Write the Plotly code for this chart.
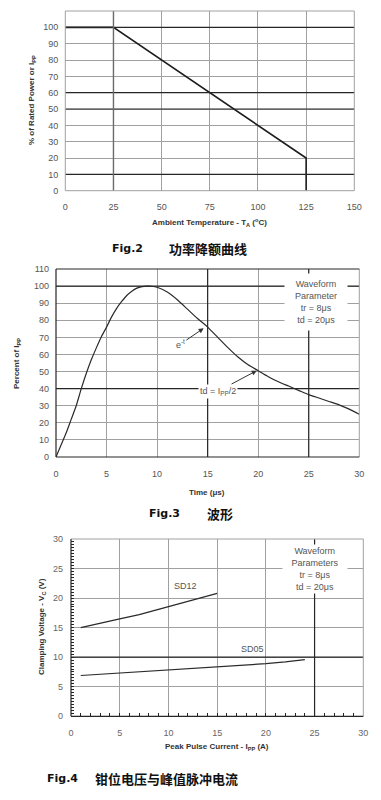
import plotly.graph_objects as go

# ---------------- data ----------------
# Fig.2 power derating
TEMP = [0, 25, 125, 125]
POWER = [100, 100, 20, 0]

# Fig.3 pulse waveform
TIME = [0, 0.5, 1, 1.5, 2, 2.5, 3, 3.5, 4, 4.5, 5, 5.5, 6, 6.5, 7, 7.5, 8, 8.5, 9, 9.5,
        10, 11, 12, 13, 14, 15, 16, 17, 18, 19, 20, 21, 22, 23, 24, 25, 26, 27, 28, 29, 30]
PCT = [0, 7, 14, 22, 30, 40, 49, 57, 64, 70.5, 76, 82, 87, 91, 94.5, 97, 98.8, 99.7, 100, 99.9,
       99.3, 96.5, 92, 86.5, 81, 76, 70, 64, 58.5, 54, 50.5, 47, 44, 41.5, 39, 36.5, 34.5, 32.5, 30.5, 28, 25]

# Fig.4 clamping voltage vs peak pulse current
SD12_I = [1, 3, 5, 7, 9, 11, 13, 15]
SD12_V = [15.0, 15.8, 16.5, 17.2, 18.1, 19.0, 19.8, 20.8]
SD05_I = [1, 3, 5, 7, 10, 13, 15, 18, 20, 22, 24]
SD05_V = [6.9, 7.1, 7.4, 7.6, 7.8, 8.1, 8.3, 8.7, 8.9, 9.2, 9.6]

# ticks / emphasised grid lines
X1_TICKS = [0, 25, 50, 75, 100, 125, 150]
Y1_TICKS = list(range(0, 111, 10))
DARK_H1 = [10, 50, 60, 100]
MID_V1 = [25]
X2_TICKS = [0, 5, 10, 15, 20, 25, 30]
Y2_TICKS = list(range(0, 111, 10))
DARK_V2 = [15, 25]
DARK_H2 = [40, 100]
X3_TICKS = [0, 5, 10, 15, 20, 25, 30]
Y3_TICKS = [0, 5, 10, 15, 20, 25, 30]
DARK_V3 = [25]
DARK_H3 = [10]

# page body has an 8px margin; figure is sized to fit inside the 381x800 window
OFF = 8
W, H = 381 - 2 * OFF, 800 - 2 * OFF
def px(x): return (x - OFF) / W
def py(y): return 1 - (y - OFF) / H

GRAY = "#a0a0a0"
DARK = "#262626"
LINE = "#2a2a2a"
FONT = "Liberation Sans, Arial, sans-serif"
TICKFONT = dict(family=FONT, size=9, color="#555")

fig = go.Figure()
fig.add_trace(go.Scatter(x=TEMP, y=POWER, mode="lines", line=dict(color="#1e1e1e", width=1.6),
                         xaxis="x", yaxis="y", showlegend=False))
fig.add_trace(go.Scatter(x=TIME, y=PCT, mode="lines", line=dict(color=LINE, width=1.2, shape="spline", smoothing=0.6),
                         xaxis="x2", yaxis="y2", showlegend=False))
fig.add_trace(go.Scatter(x=SD12_I, y=SD12_V, mode="lines", line=dict(color=LINE, width=1.2),
                         xaxis="x3", yaxis="y3", showlegend=False))
fig.add_trace(go.Scatter(x=SD05_I, y=SD05_V, mode="lines", line=dict(color=LINE, width=1.2),
                         xaxis="x3", yaxis="y3", showlegend=False))

def ax(domain, rng, ticks, anchor, standoff):
    return dict(domain=domain, range=rng, tickmode="array", tickvals=ticks, anchor=anchor,
                showgrid=True, gridcolor=GRAY, gridwidth=1, zeroline=False, showline=False,
                automargin=False, ticks="", tickfont=TICKFONT, ticklabelstandoff=standoff,
                fixedrange=True)

layout = dict(
    width=W, height=H, margin=dict(l=0, r=0, t=0, b=0, autoexpand=False),
    paper_bgcolor="white", plot_bgcolor="white",
    xaxis=ax([px(65.3), px(354.3)], [0, 150], X1_TICKS, "y", 9),
    yaxis=ax([py(190.7), py(11)], [0, 110], Y1_TICKS, "x", 6),
    xaxis2=ax([px(56), px(359.3)], [0, 30], X2_TICKS, "y2", 10),
    yaxis2=ax([py(457), py(269)], [0, 110], Y2_TICKS, "x2", 6),
    xaxis3=ax([px(71), px(363.3)], [0, 30], X3_TICKS, "y3", 10),
    yaxis3=ax([py(716.3), py(539)], [0, 30], Y3_TICKS, "x3", 7),
)
layout["xaxis3"].update(ticks="inside", ticklen=3, tickcolor=DARK,
                        minor=dict(dtick=1, ticks="inside", ticklen=3, tickcolor=DARK, showgrid=False))
layout["yaxis3"].update(ticks="inside", ticklen=3, tickcolor=DARK,
                        minor=dict(dtick=0.5, ticks="inside", ticklen=2.5, tickcolor=DARK, showgrid=False))
layout["xaxis3"]["tickfont"] = dict(family=FONT, size=9, color="#666")
layout["yaxis3"]["tickfont"] = dict(family=FONT, size=9, color="#666")
fig.update_layout(**layout)

shapes = []
def hline(xa, ya, v, color, w=1.2):
    shapes.append(dict(type="line", xref=f"{xa} domain", yref=ya, x0=0, x1=1, y0=v, y1=v,
                       line=dict(color=color, width=w), layer="above"))
def vline(xa, ya, v, color, w=1.2):
    shapes.append(dict(type="line", xref=xa, yref=f"{ya} domain", x0=v, x1=v, y0=0, y1=1,
                       line=dict(color=color, width=w), layer="above"))
def edge(xa, ya, side, color, w=1.2):
    d = dict(type="line", xref=f"{xa} domain", yref=f"{ya} domain",
             line=dict(color=color, width=w), layer="above")
    if side == "l": d.update(x0=0, x1=0, y0=0, y1=1)
    if side == "r": d.update(x0=1, x1=1, y0=0, y1=1)
    if side == "t": d.update(x0=0, x1=1, y0=1, y1=1)
    if side == "b": d.update(x0=0, x1=1, y0=0, y1=0)
    shapes.append(d)

# chart 1
for v in DARK_H1: hline("x", "y", v, DARK)
for v in MID_V1: vline("x", "y", v, "#6a6a6a", 1.4)
for s in "lrtb": edge("x", "y", s, GRAY, 1)
# chart 2
for v in DARK_H2: hline("x2", "y2", v, DARK)
for v in DARK_V2: vline("x2", "y2", v, DARK)
edge("x2", "y2", "r", GRAY, 1)
for s in "ltb": edge("x2", "y2", s, DARK)
# chart 3
for v in DARK_H3: hline("x3", "y3", v, DARK)
for v in DARK_V3: vline("x3", "y3", v, DARK)
for s in "rt": edge("x3", "y3", s, GRAY, 1)
for s in "lb": edge("x3", "y3", s, DARK)
fig.update_layout(shapes=shapes)

ann = []
TF = dict(family=FONT, size=8, color="#333")
def title(text, x, y, angle=0):
    ann.append(dict(text=f"<b>{text}</b>", x=px(x), y=py(y), xref="paper", yref="paper",
                    showarrow=False, textangle=angle, font=TF, xanchor="center", yanchor="middle"))
title("Ambient Temperature - T<sub>A</sub> (<sup>o</sup>C)", 210, 222)
title("% of Rated Power or I<sub>PP</sub>", 32, 100, -90)
title("Time (μs)", 207, 492)
title("Percent of I<sub>PP</sub>", 17, 364, -90)
title("Peak Pulse Current - I<sub>PP</sub> (A)", 217, 747)
title("Clamping Voltage - V<sub>C</sub> (V)", 42, 627, -90)

CAPF = dict(family="DejaVu Sans, Verdana, sans-serif", size=11, color="#111")
CJKF = dict(family="Noto Sans CJK SC", size=13, color="#111")
def cap(fig_txt, cn_txt, x1, x2, y):
    ann.append(dict(text=f"<b>{fig_txt}</b>", x=px(x1), y=py(y), xref="paper", yref="paper",
                    showarrow=False, font=CAPF, xanchor="left", yanchor="middle"))
    ann.append(dict(text=f"<b>{cn_txt}</b>", x=px(x2), y=py(y), xref="paper", yref="paper",
                    showarrow=False, font=CJKF, xanchor="left", yanchor="middle"))
cap("Fig.2", "功率降额曲线", 110, 167, 248)
cap("Fig.3", "波形", 147, 205, 513)
cap("Fig.4", "钳位电压与峰值脉冲电流", 45, 93, 778)

NF = dict(family=FONT, size=9, color="#555")
ann.append(dict(text="Waveform<br>Parameter<br>tr = 8μs<br>td = 20μs", x=25.7, y=90.8, xref="x2", yref="y2",
                showarrow=False, font=NF, bgcolor="white", width=60, height=54, align="center"))
ann.append(dict(text="Waveform<br>Parameters<br>tr = 8μs<br>td = 20μs", x=25.05, y=24.9, xref="x3", yref="y3",
                showarrow=False, font=NF, bgcolor="white", width=62, height=46, align="center"))
ann.append(dict(text="e<sup>-t</sup>", x=14.6, y=75.3, ax=12.3, ay=66.0, xref="x2", yref="y2",
                axref="x2", ayref="y2", showarrow=True, arrowhead=2, arrowsize=1, arrowwidth=1,
                arrowcolor="#333", font=NF))
ann.append(dict(text="td = I<sub>PP</sub>/2", x=19.85, y=50.5, ax=16.06, ay=38.6, xref="x2", yref="y2",
                axref="x2", ayref="y2", showarrow=True, arrowhead=2, arrowsize=1, arrowwidth=1,
                arrowcolor="#333", font=NF, bgcolor="white"))
ann.append(dict(text="SD12", x=11.8, y=22.1, xref="x3", yref="y3", showarrow=False, font=NF))
ann.append(dict(text="SD05", x=18.6, y=11.4, xref="x3", yref="y3", showarrow=False, font=NF))
fig.update_layout(annotations=ann)

fig.write_html("out.html")
